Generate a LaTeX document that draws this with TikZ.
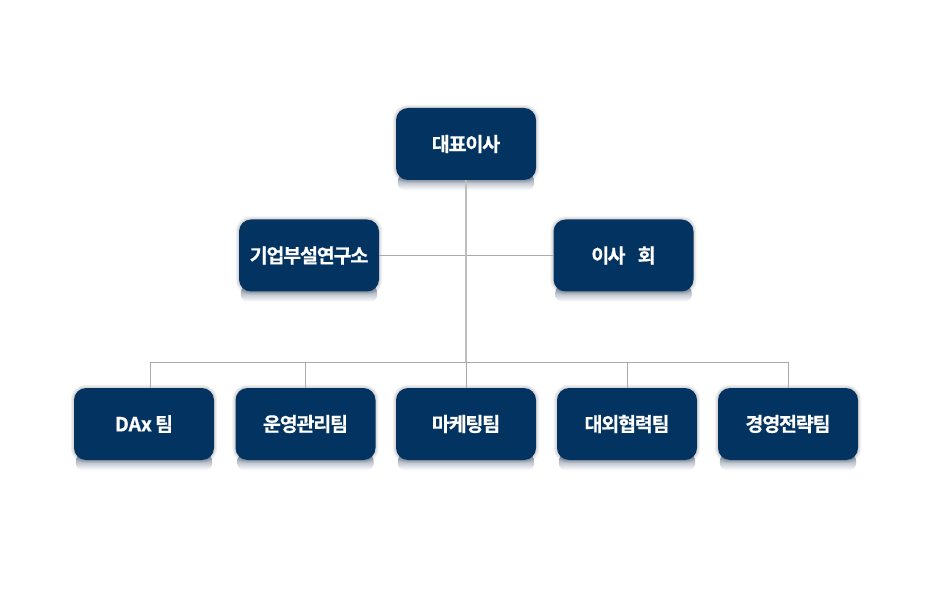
\documentclass[tikz,border=0pt]{standalone}
\usepackage{fontspec}
\setmainfont{Noto Sans CJK KR}[BoldFont={* Bold}, LetterSpace=-6, BoldFeatures={FakeBold=0.6}]
\usetikzlibrary{backgrounds}
\definecolor{navy}{RGB}{3,51,96}
\definecolor{conn}{RGB}{170,170,170}
\definecolor{connmain}{RGB}{190,190,190}
\definecolor{refl}{RGB}{125,140,160}
\tikzset{
  orgbox/.style={fill=navy, rounded corners=12pt, minimum width=140pt, minimum height=72pt,
    inner sep=0pt, text=white, font=\fontsize{19.5pt}{22pt}\selectfont\bfseries},
  link/.style={draw=conn, line width=1pt},
  mainlink/.style={draw=connmain, line width=1.8pt},
}
\newcommand{\reflect}[1]{%
  \shade[top color=refl, bottom color=white, rounded corners=7pt]
    ([xshift=2pt,yshift=6pt]#1.south west) rectangle ([xshift=-2pt,yshift=-10pt]#1.south east);
  \foreach \g in {3,2,1}{%
    \fill[black, opacity=0.05, rounded corners=12pt+\g pt]
      ([shift={(-\g pt,-\g pt)}]#1.south west) rectangle ([shift={(\g pt,\g pt)}]#1.north east);}}
\begin{document}
\begin{tikzpicture}[x=1pt,y=1pt]
\useasboundingbox (0,0) rectangle (933,611);
% nodes
\node[orgbox] (ceo) at (466,467) {대표이사};
\node[orgbox] (lab) at (309,355.5) {기업부설연구소};
\node[orgbox] (board) at (623.5,355.5) {이\hspace{-5pt} 사\hspace{9pt} 회};
\node[orgbox] (dax) at (144,187) {{\addfontfeatures{LetterSpace=0}DAx} 팀};
\node[orgbox] (ops) at (305.5,187) {운영관리팀};
\node[orgbox] (mkt) at (466,187) {마케팅팀};
\node[orgbox] (ext) at (627,187) {대외협력팀};
\node[orgbox] (stg) at (788,187) {경영전략팀};
% coordinates
\coordinate (bus) at (466,249);
\coordinate (busL) at (150,249);
\coordinate (busR) at (788,249);
\begin{scope}[on background layer]
\fill[white] (0,0) rectangle (933,611);
\foreach \n in {ceo,lab,board,dax,ops,mkt,ext,stg}{\reflect{\n}}
% connectors
\draw[link] (lab.east) -- (board.west);
\draw[mainlink] (ceo.south) -- (bus);
\draw[link] (busL) -- (busR);
\draw[link] (busL) -- (busL |- dax.north);
\draw[link] (ops.north |- bus) -- (ops.north);
\draw[link] (bus) -- (mkt.north);
\draw[link] (ext.north |- bus) -- (ext.north);
\draw[link] (busR) -- (stg.north);
\end{scope}
\end{tikzpicture}
\end{document}
